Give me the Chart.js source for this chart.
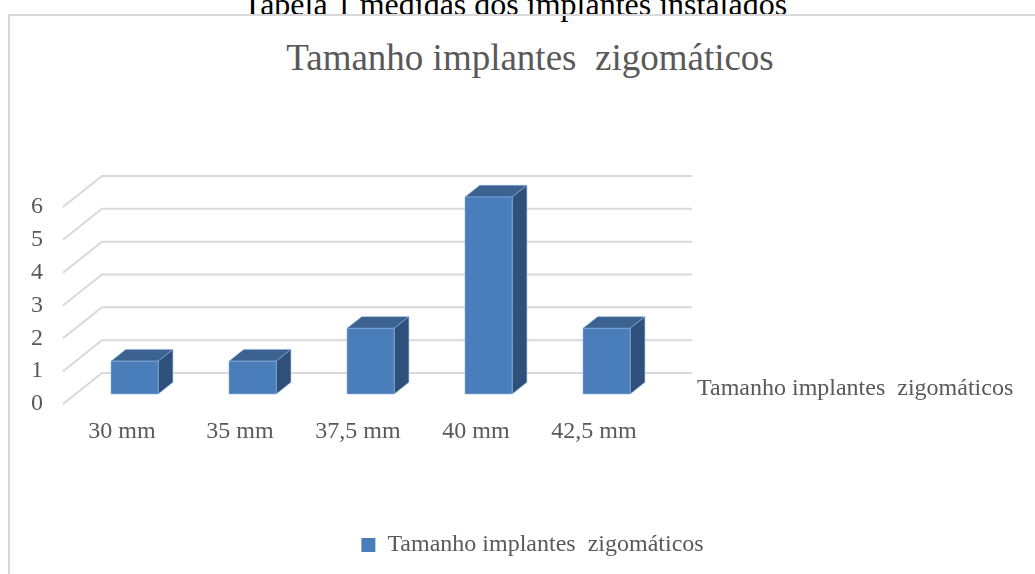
<!DOCTYPE html>
<html>
<head>
<meta charset="utf-8">
<script src="https://cdn.jsdelivr.net/npm/chart.js@4.4.1/dist/chart.umd.min.js"></script>
<style>
  html, body { margin: 0; padding: 0; width: 1035px; height: 574px; overflow: hidden; background: #fff; }
  #caption { position: absolute; left: 0; top: -12px; width: 1030px; text-align: center;
             font: 32px/32px 'Liberation Serif', serif; color: #000; white-space: pre; }
  #frame { position: absolute; left: 8px; top: 14px; width: 1100px; height: 700px;
           border: 2px solid #d9d9d9; box-sizing: border-box; }
  #title { position: absolute; left: 0; top: 39px; width: 1060px; text-align: center;
           font: 37px/37px 'Liberation Serif', serif; color: #595959; white-space: pre; }
  #chart { position: absolute; left: 0; top: 0; }
</style>
</head>
<body>
<div id="caption">Tabela 1 medidas dos implantes instalados</div>
<div id="frame"></div>
<div id="title">Tamanho implantes  zigomáticos</div>
<canvas id="chart" width="1035" height="574"></canvas>
<script>
// Implant sizes and how many of each were placed
const categories = ['30 mm', '35 mm', '37,5 mm', '40 mm', '42,5 mm'];
const seriesName = 'Tamanho implantes  zigomáticos';
const counts = [1, 1, 2, 6, 2];
const yTicks = [0, 1, 2, 3, 4, 5, 6];

const FONT = { family: "'Liberation Serif', serif", size: 24 };
const TEXT = '#595959';

// Floor depth: vector from the back wall to the front edge of the floor
const DEPTH = { dx: -39, dy: 31 };
// Depth fractions (0 = back wall, 1 = front edge) of the bar's front and back faces
const BAR_FRONT = 0.677;
const BAR_BACK = 0.30;

const colors = { front: '#4a7ebb', top: '#3b6291', side: '#30507c', edge: 'rgba(140,180,225,0.55)' };

const perspective = {
  id: 'perspective',
  beforeDatasetsDraw(chart) {
    const { ctx, chartArea: a, scales: { y } } = chart;
    ctx.save();
    ctx.strokeStyle = '#d9d9d9';
    ctx.lineWidth = 2;
    y.ticks.forEach(t => {
      const py = y.getPixelForValue(t.value);
      ctx.beginPath();
      ctx.moveTo(a.left + DEPTH.dx, py + DEPTH.dy);
      ctx.lineTo(a.left, py);
      ctx.lineTo(a.right, py);
      ctx.stroke();
    });
    ctx.restore();
  },
  // flat bars are replaced by the boxes drawn below
  beforeDatasetDraw() { return false; },
  afterDatasetsDraw(chart) {
    const { ctx } = chart;
    const meta = chart.getDatasetMeta(0);
    const bx = DEPTH.dx * (BAR_BACK - BAR_FRONT);
    const by = DEPTH.dy * (BAR_BACK - BAR_FRONT);
    ctx.save();
    meta.data.forEach(el => {
      const { x, y, base, width } = el.getProps(['x', 'y', 'base', 'width'], true);
      const x0 = x - width / 2 + DEPTH.dx * BAR_FRONT;
      const x1 = x0 + width;
      const yt = y + DEPTH.dy * BAR_FRONT;
      const yb = base + DEPTH.dy * BAR_FRONT;
      // top face
      ctx.beginPath();
      ctx.moveTo(x0, yt); ctx.lineTo(x1, yt); ctx.lineTo(x1 + bx, yt + by); ctx.lineTo(x0 + bx, yt + by);
      ctx.closePath();
      ctx.fillStyle = colors.top; ctx.fill();
      ctx.strokeStyle = colors.edge; ctx.lineWidth = 1; ctx.stroke();
      // side face
      ctx.beginPath();
      ctx.moveTo(x1, yt); ctx.lineTo(x1 + bx, yt + by); ctx.lineTo(x1 + bx, yb + by); ctx.lineTo(x1, yb);
      ctx.closePath();
      ctx.fillStyle = colors.side; ctx.fill();
      ctx.stroke();
      // front face
      ctx.beginPath();
      ctx.rect(x0, yt, width, yb - yt);
      ctx.fillStyle = colors.front; ctx.fill();
      ctx.stroke();
    });
    ctx.restore();
  },
  afterDraw(chart) {
    // depth-axis label at the right end of the floor
    const { ctx, chartArea: a, scales: { y } } = chart;
    ctx.save();
    ctx.font = FONT.size + 'px ' + FONT.family;
    ctx.fillStyle = TEXT;
    ctx.textAlign = 'left';
    ctx.textBaseline = 'middle';
    ctx.fillText(seriesName, a.right + 5, y.getPixelForValue(0) + DEPTH.dy / 2);
    ctx.restore();
  }
};

new Chart(document.getElementById('chart'), {
  type: 'bar',
  data: {
    labels: categories,
    datasets: [{
      label: seriesName,
      data: counts,
      backgroundColor: colors.front,
      borderWidth: 0,
      categoryPercentage: 1,
      barPercentage: 0.4,
      xAxisID: 'x',
      yAxisID: 'y'
    }]
  },
  options: {
    responsive: false,
    animation: false,
    devicePixelRatio: 1,
    layout: { padding: { top: 176, left: 30, right: 0, bottom: 7 } },
    plugins: {
      title: { display: false },
      tooltip: { enabled: false },
      legend: {
        position: 'bottom',
        labels: { font: FONT, color: TEXT, boxWidth: 14, boxHeight: 14, padding: 10 }
      }
    },
    scales: {
      x: {
        type: 'category',
        grid: { display: false, drawTicks: false },
        border: { display: false },
        ticks: { font: FONT, color: TEXT, padding: 44, labelOffset: DEPTH.dx, maxRotation: 0, autoSkip: false },
        afterFit(s) { s.height = 150; }
      },
      y: {
        type: 'linear',
        min: 0, max: 6,
        grid: { display: false, drawTicks: false },
        border: { display: false },
        ticks: { font: FONT, color: TEXT, padding: 59, labelOffset: DEPTH.dy },
        afterBuildTicks(s) { s.ticks = yTicks.map(v => ({ value: v })); },
        afterFit(s) { s.width = 72; }
      },
      yR: {
        type: 'linear',
        position: 'right',
        grid: { display: false, drawTicks: false },
        border: { display: false },
        ticks: { display: false },
        afterFit(s) { s.width = 343; }
      }
    }
  },
  plugins: [perspective]
});
</script>
</body>
</html>
